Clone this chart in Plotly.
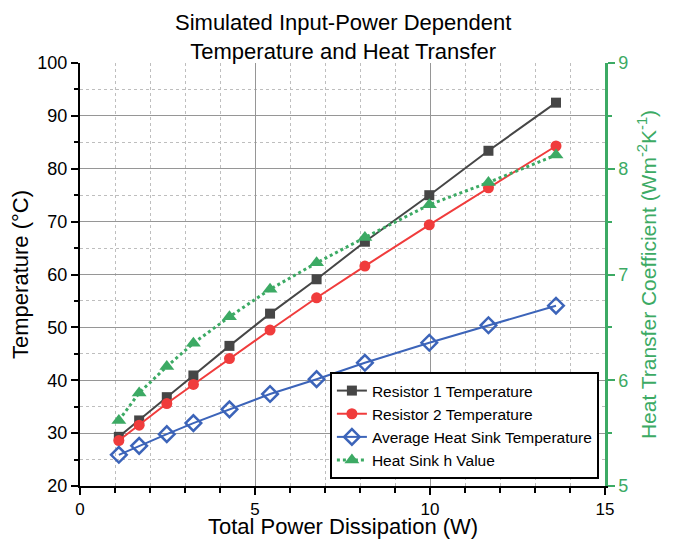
import plotly.graph_objects as go

power = [1.11, 1.69, 2.48, 3.24, 4.27, 5.43, 6.76, 8.14, 9.98, 11.67, 13.6]
r1_temp = [29.3, 32.4, 36.8, 40.9, 46.5, 52.6, 59.1, 66.2, 75.0, 83.4, 92.5]
r2_temp = [28.6, 31.5, 35.6, 39.2, 44.1, 49.5, 55.6, 61.6, 69.4, 76.4, 84.3]
hs_temp = [25.9, 27.6, 29.8, 31.9, 34.5, 37.4, 40.2, 43.3, 47.1, 50.4, 54.1]
h_value = [5.62, 5.88, 6.13, 6.35, 6.60, 6.86, 7.11, 7.35, 7.66, 7.87, 8.13]

FONT = "Liberation Sans, Arial, sans-serif"
GREEN = "rgb(60,170,100)"

fig = go.Figure()
fig.add_trace(go.Scatter(x=power, y=r1_temp, mode="lines+markers", name="Resistor 1 Temperature",
                         line=dict(color="rgb(70,70,70)", width=2),
                         marker=dict(symbol="square", size=10, color="rgb(70,70,70)")))
fig.add_trace(go.Scatter(x=power, y=r2_temp, mode="lines+markers", name="Resistor 2 Temperature",
                         line=dict(color="rgb(240,60,60)", width=2),
                         marker=dict(symbol="circle", size=11, color="rgb(240,60,60)")))
fig.add_trace(go.Scatter(x=power, y=hs_temp, mode="lines+markers", name="Average Heat Sink Temperature",
                         line=dict(color="rgb(60,100,185)", width=2),
                         marker=dict(symbol="diamond-open", size=12, color="rgb(60,100,185)",
                                     line=dict(width=2.5, color="rgb(60,100,185)"))))
fig.add_trace(go.Scatter(x=power, y=h_value, mode="lines+markers", name="Heat Sink h Value", yaxis="y2",
                         line=dict(color=GREEN, width=3, dash="dot"),
                         marker=dict(symbol="triangle-up", size=13, color=GREEN)))

fig.update_layout(
    width=674, height=532,
    margin=dict(l=72, r=77, t=55, b=54, autoexpand=False),
    paper_bgcolor="white", plot_bgcolor="white",
    font=dict(family=FONT, color="black", size=18),
    annotations=[
        dict(text="Simulated Input-Power Dependent<br>Temperature and Heat Transfer",
             xref="paper", yref="paper", x=0.5, y=0.994, xanchor="center", yanchor="bottom",
             showarrow=False, font=dict(size=22, family=FONT, color="black")),
        dict(text="Total Power Dissipation (W)",
             xref="paper", yref="paper", x=0.5, y=-0.095, xanchor="center", yanchor="middle",
             showarrow=False, font=dict(size=22, family=FONT, color="black")),
    ],
    xaxis=dict(range=[0, 15], dtick=5, tick0=0, automargin=False,
               showline=True, linecolor="black", linewidth=2,
               ticks="outside", ticklen=7, tickwidth=2, tickcolor="black",
               showgrid=True, gridcolor="rgb(150,150,150)", gridwidth=1.2,
               zeroline=False,
               minor=dict(dtick=1, ticks="outside", ticklen=5, tickwidth=1.5, tickcolor="black",
                          showgrid=True, gridcolor="rgb(190,190,190)", griddash="dot", gridwidth=1),
               tickfont=dict(size=17)),
    xaxis2=dict(range=[0, 15], overlaying="x", side="top", dtick=5, tick0=0, automargin=False,
                showline=True, linecolor="black", linewidth=2,
                ticks="inside", ticklen=8, tickwidth=2, tickcolor="black",
                showticklabels=False, showgrid=False, zeroline=False,
                minor=dict(dtick=1, ticks="inside", ticklen=5, tickwidth=1.5, tickcolor="black")),
    yaxis=dict(range=[20, 100], dtick=10, tick0=0, automargin=False,
               showline=True, linecolor="black", linewidth=2,
               ticks="outside", ticklen=7, tickwidth=2, tickcolor="black",
               showgrid=True, gridcolor="rgb(150,150,150)", gridwidth=1.2,
               zeroline=False,
               minor=dict(dtick=5, ticks="outside", ticklen=4, tickwidth=1.5, tickcolor="black",
                          showgrid=True, gridcolor="rgb(190,190,190)", griddash="dot", gridwidth=1),
               title=dict(text="Temperature (°C)", font=dict(size=22), standoff=3),
               tickfont=dict(size=18)),
    yaxis2=dict(range=[5, 9], dtick=1, tick0=0, overlaying="y", side="right", automargin=False,
                showline=True, linecolor=GREEN, linewidth=2.5,
                ticks="outside", ticklen=7, tickwidth=2, tickcolor=GREEN,
                showgrid=False, zeroline=False,
                minor=dict(dtick=0.5, ticks="outside", ticklen=4, tickwidth=1.5, tickcolor=GREEN),
                title=dict(text="Heat Transfer Coefficient (Wm<sup>-2</sup>K<sup>-1</sup>)",
                           font=dict(size=21, color=GREEN), standoff=14),
                tickfont=dict(size=18, color=GREEN)),
    legend=dict(x=0.476, y=0.143, xanchor="left", yanchor="middle",
                bgcolor="white", bordercolor="black", borderwidth=2,
                font=dict(size=15.5, family=FONT),
                tracegroupgap=0),
    showlegend=True,
)

fig.write_html("out.html")
